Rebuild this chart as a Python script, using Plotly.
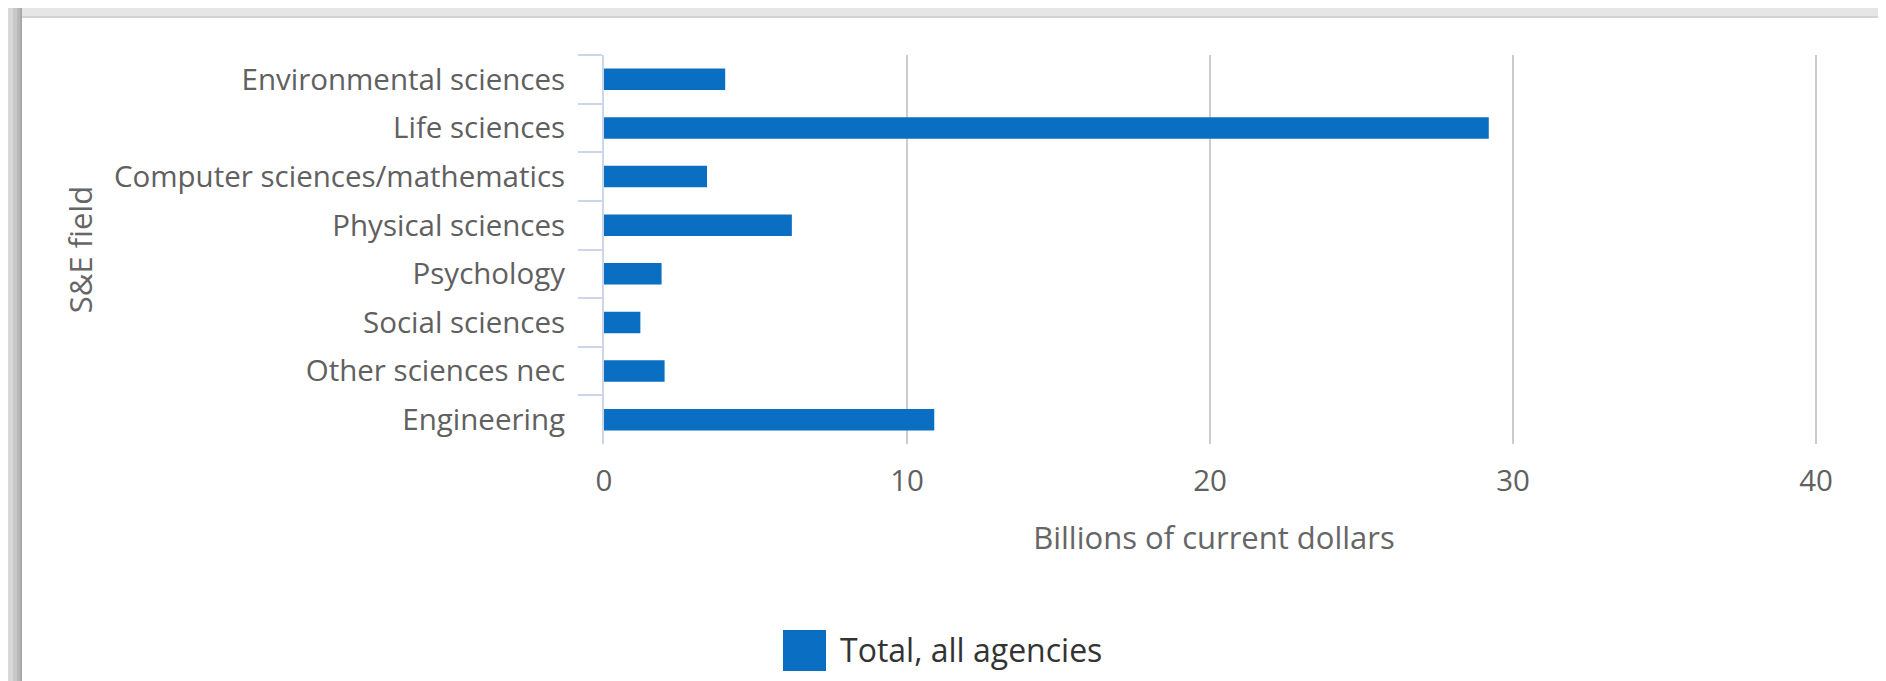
import plotly.graph_objects as go

# ---- data ----
fields = [
    "Environmental sciences",
    "Life sciences",
    "Computer sciences/mathematics",
    "Physical sciences",
    "Psychology",
    "Social sciences",
    "Other sciences nec",
    "Engineering",
]
values = [4.0, 29.2, 3.4, 6.2, 1.9, 1.2, 2.0, 10.9]
series_name = "Total, all agencies"
x_ticks = [0, 10, 20, 30, 40]
x_title = "Billions of current dollars"
y_title = "S&E field"

# ---- geometry (pixels) ----
W, H = 1886, 681
ML, MR, MT, MB = 596, 70, 47, 245
PW = W - ML - MR
PH = H - MT - MB


def px(x):
    return (x - ML) / PW


def py(y):
    return (H - MB - y) / PH


BAR = "#0a6fc2"
FONT = "Open Sans"

fig = go.Figure()
fig.add_trace(
    go.Bar(
        y=fields,
        x=values,
        orientation="h",
        name=series_name,
        marker=dict(color=BAR, line=dict(width=0)),
        showlegend=False,
        hoverinfo="x+y",
    )
)

shapes = []
# shadowed frame around the white card
for x0, col in [(0, "#d8d8d8"), (5, "#c9c9c9"), (9, "#b9b9b9"), (12, "#a8a8a8")]:
    shapes.append(dict(type="rect", xref="paper", yref="paper", layer="below",
                       x0=px(x0), x1=px(14), y0=py(H), y1=py(0),
                       fillcolor=col, line=dict(width=0)))
shapes.append(dict(type="rect", xref="paper", yref="paper", layer="below",
                   x0=px(14), x1=px(W), y0=py(10), y1=py(0),
                   fillcolor="#e6e6e6", line=dict(width=0)))
shapes.append(dict(type="rect", xref="paper", yref="paper", layer="below",
                   x0=px(14), x1=px(W), y0=py(10), y1=py(8),
                   fillcolor="#d2d2d2", line=dict(width=0)))
shapes.append(dict(type="rect", xref="paper", yref="paper", layer="below",
                   x0=px(14), x1=px(W + 5), y0=py(H + 5), y1=py(10),
                   fillcolor="white", line=dict(width=0)))
# legend symbol
shapes.append(dict(type="rect", xref="paper", yref="paper",
                   x0=px(775), x1=px(818), y0=py(663), y1=py(622),
                   fillcolor=BAR, line=dict(width=0)))

annotations = [
    dict(text=series_name, xref="paper", yref="paper", x=px(830), y=py(641),
         xanchor="left", yanchor="middle", showarrow=False,
         font=dict(family=FONT, size=32, color="#333333")),
]

fig.update_layout(
    width=W,
    height=H,
    margin=dict(l=ML, r=MR, t=MT, b=MB, pad=0),
    paper_bgcolor="#dcdcdc",
    plot_bgcolor="white",
    font=dict(family=FONT, color="#666666"),
    bargap=0.56,
    shapes=shapes,
    annotations=annotations,
    showlegend=False,
    xaxis=dict(
        range=[0, PW / 30.3],
        tickvals=x_ticks,
        showgrid=True,
        gridcolor="#cccccc",
        gridwidth=2,
        zeroline=False,
        showline=False,
        ticks="",
        ticklabelstandoff=16,
        tickfont=dict(family=FONT, size=29.5, color="#606060"),
        title=dict(text=x_title, standoff=28,
                   font=dict(family=FONT, size=31, color="#666666")),
    ),
    yaxis=dict(
        categoryorder="array",
        categoryarray=fields,
        autorange="reversed",
        showgrid=False,
        zeroline=False,
        showline=True,
        linecolor="#ccd6eb",
        linewidth=2,
        ticks="outside",
        tickson="boundaries",
        ticklen=24,
        tickwidth=2,
        tickcolor="#ccd6eb",
        ticklabelstandoff=31,
        tickfont=dict(family=FONT, size=29.5, color="#606060"),
        title=dict(text=y_title, standoff=12,
                   font=dict(family=FONT, size=31, color="#666666")),
    ),
)

fig.write_html("out.html")
